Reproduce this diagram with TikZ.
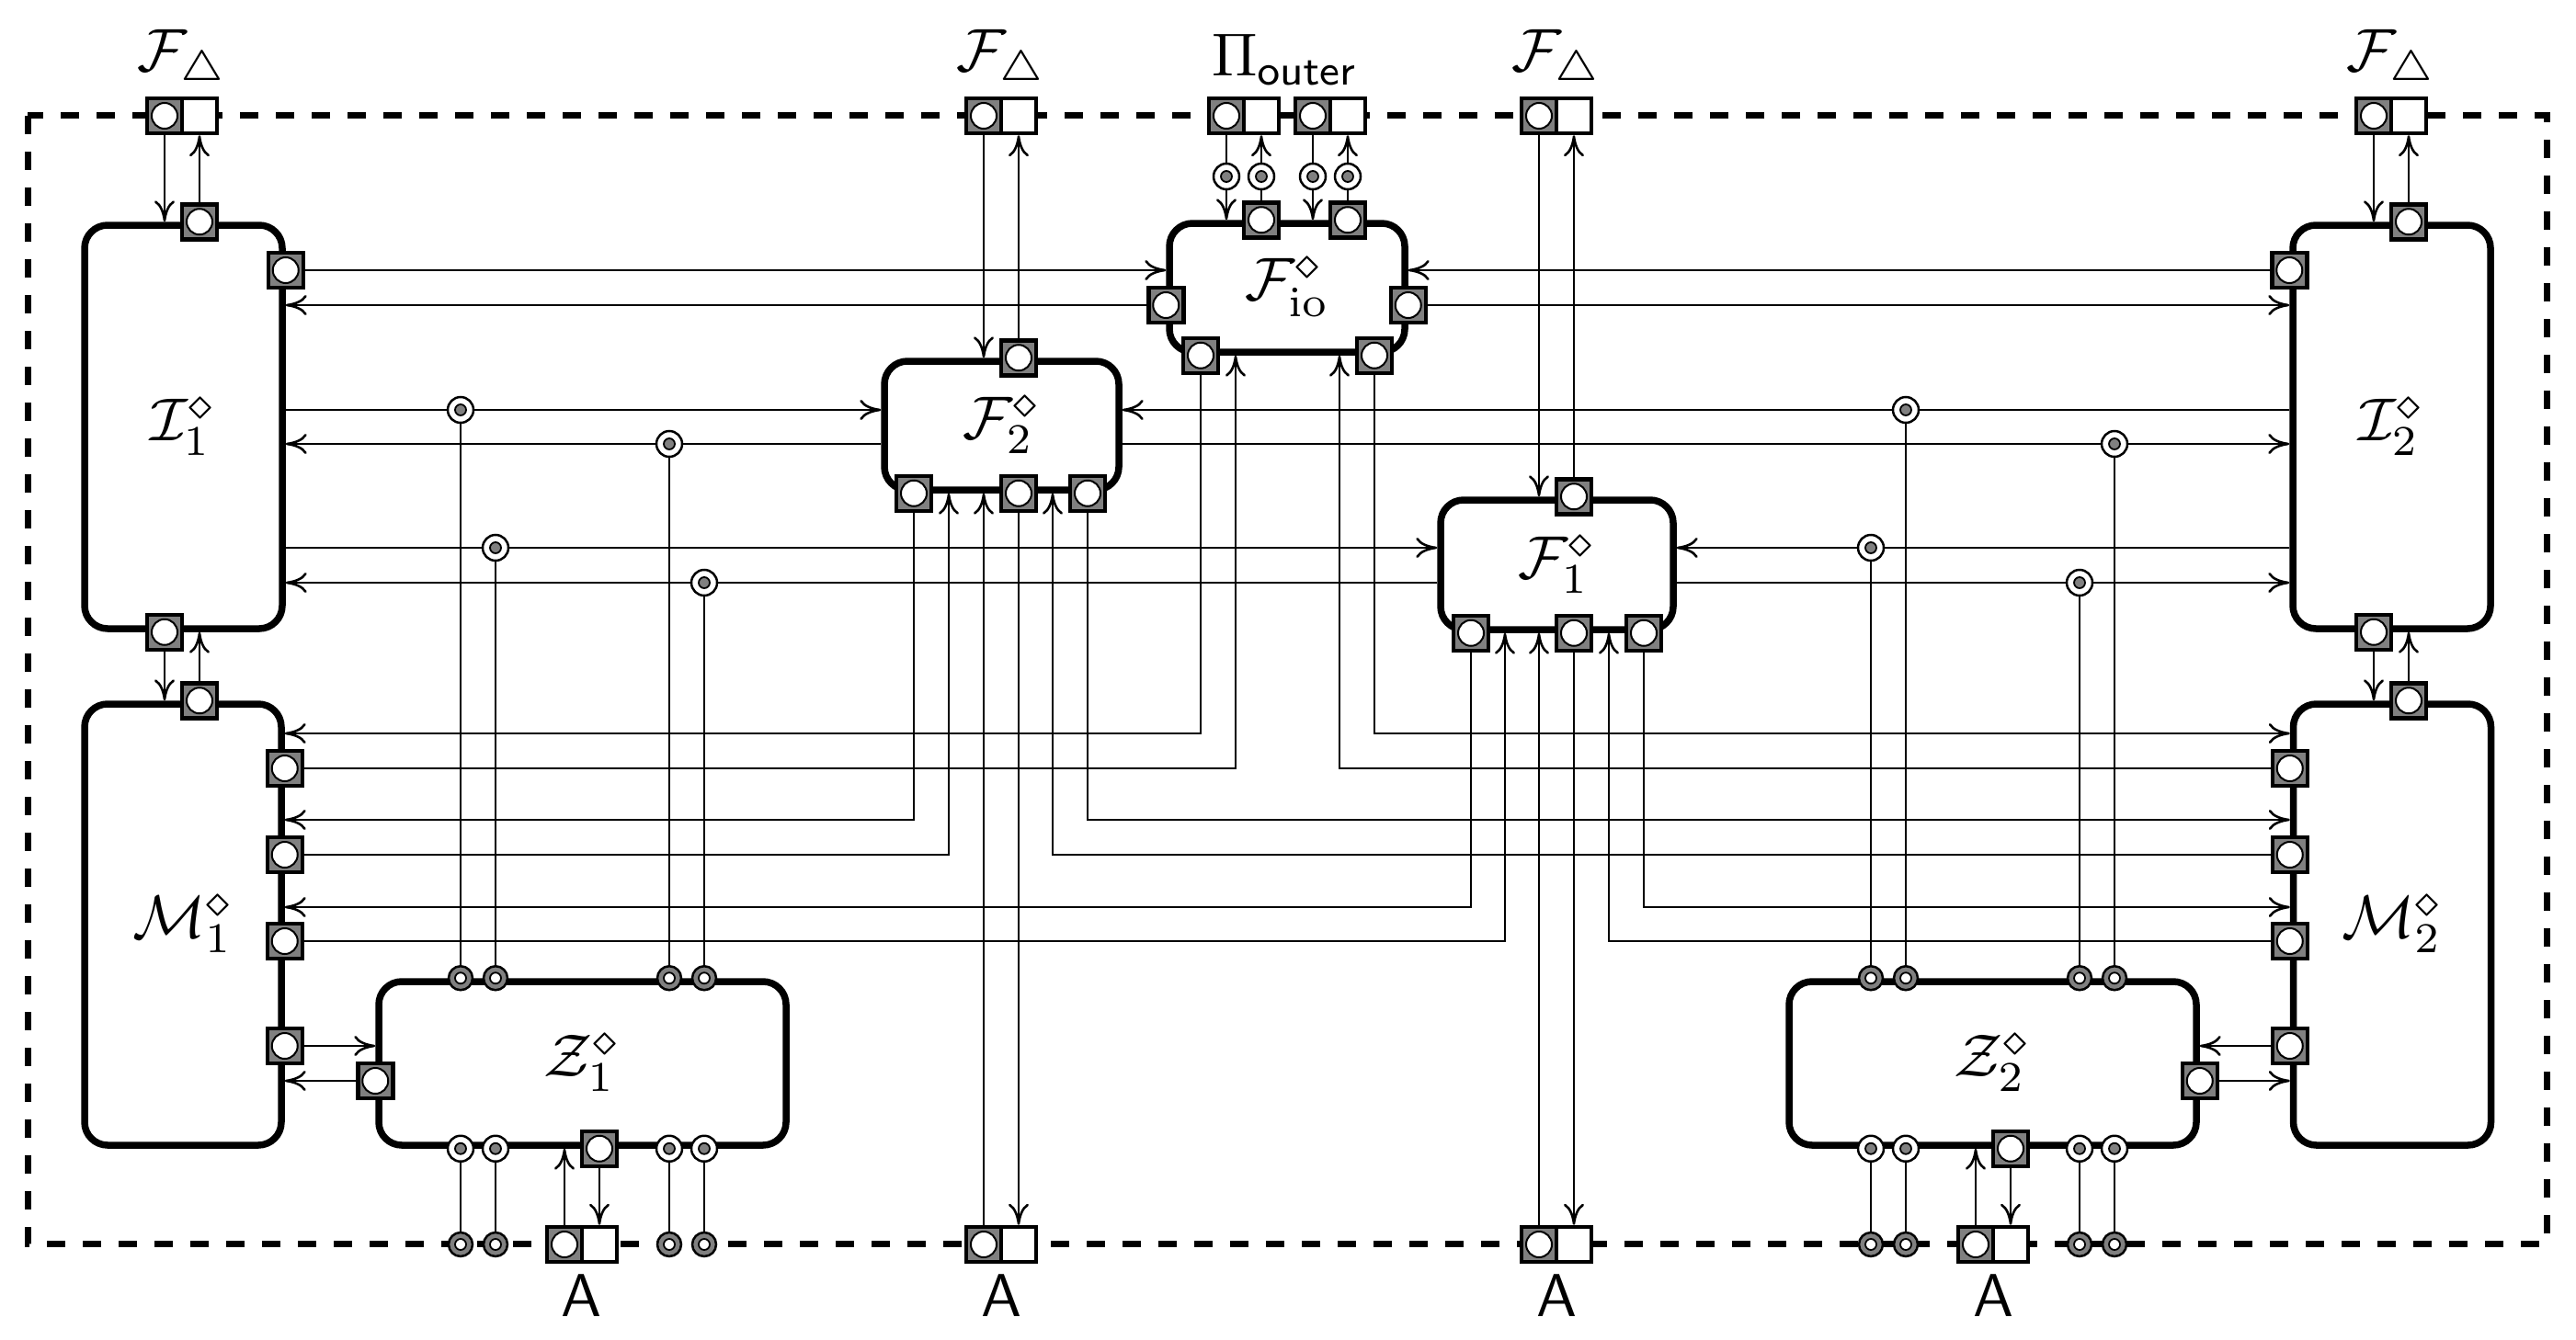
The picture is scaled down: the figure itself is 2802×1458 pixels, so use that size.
\documentclass[tikz,border=0pt]{standalone}
\usepackage{graphicx}
\usetikzlibrary{arrows.meta}
\pgfdeclarelayer{bg}
\pgfsetlayers{bg,main}
\newcommand{\Sc}[1]{\scalebox{6.6}{#1}}
\tikzset{
  blk/.style={draw, line width=7.5pt, rounded corners=25pt, fill=white, outer sep=3.75pt, inner sep=0pt},
  gport/.style={draw, line width=4.5pt, fill=gray, minimum size=38pt, inner sep=0pt, outer sep=2.25pt,
    path picture={\draw[line width=2pt, fill=white] (path picture bounding box.center) circle (14pt);}},
  wport/.style={draw, line width=4.5pt, fill=white, minimum size=38pt, inner sep=0pt, outer sep=2.25pt},
  jdot/.style={circle, draw, line width=2.5pt, fill=white, minimum size=28pt, inner sep=0pt, outer sep=0pt,
    path picture={\draw[line width=1.8pt, fill=gray] (path picture bounding box.center) circle (6pt);}},
  gdot/.style={circle, draw, line width=2.5pt, fill=gray, minimum size=26pt, inner sep=0pt, outer sep=0pt,
    path picture={\draw[line width=1.8pt, fill=white] (path picture bounding box.center) circle (6pt);}},
  wire/.style={line width=2.6pt, -{Computer Modern Rightarrow[length=23pt,width=22pt]}},
  plainwire/.style={line width=2.6pt},
  lab/.style={inner sep=0pt, anchor=base},
  outerframe/.style={line width=7pt, dash pattern=on 20pt off 19pt},
}
\begin{document}
\begin{tikzpicture}[x=1pt,y=-1pt]
\useasboundingbox (0,0) rectangle (2802,1458);
% boxes
\node[blk, minimum width=215pt, minimum height=439pt] (I1) at (199.5,464.5) {\Sc{$\mathcal{I}_1^{\diamond}$}};
\node[blk, minimum width=215pt, minimum height=439pt] (I2) at (2601.5,464.5) {\Sc{$\mathcal{I}_2^{\diamond}$}};
\node[blk, minimum width=214pt, minimum height=480pt] (M1) at (199,1006) {\Sc{$\mathcal{M}_1^{\diamond}$}};
\node[blk, minimum width=215pt, minimum height=480pt] (M2) at (2602,1006) {\Sc{$\mathcal{M}_2^{\diamond}$}};
\node[blk, minimum width=443pt, minimum height=178pt] (Z1) at (633.5,1157) {\Sc{$\mathcal{Z}_1^{\diamond}$}};
\node[blk, minimum width=443pt, minimum height=178pt] (Z2) at (2167.5,1157) {\Sc{$\mathcal{Z}_2^{\diamond}$}};
\node[blk, minimum width=256pt, minimum height=140pt] (Fio) at (1400,313) {\Sc{$\mathcal{F}_{\mathrm{io}}^{\diamond}$}};
\node[blk, minimum width=255pt, minimum height=140pt] (F2) at (1089.5,463) {\Sc{$\mathcal{F}_2^{\diamond}$}};
\node[blk, minimum width=253pt, minimum height=141pt] (F1) at (1693.5,614.5) {\Sc{$\mathcal{F}_1^{\diamond}$}};
% frame ports top
\node[gport] (ft1g) at (179,126) {}; \node[wport] (ft1w) at (217,126) {};
\node[gport] (ft2g) at (1070,126) {}; \node[wport] (ft2w) at (1108,126) {};
\node[gport] (po1g) at (1334,126) {}; \node[wport] (po1w) at (1372,126) {};
\node[gport] (po2g) at (1428,126) {}; \node[wport] (po2w) at (1466,126) {};
\node[gport] (ft3g) at (1674,126) {}; \node[wport] (ft3w) at (1712,126) {};
\node[gport] (ft4g) at (2582,126) {}; \node[wport] (ft4w) at (2620,126) {};
% frame ports bottom
\node[gport] (a1g) at (614,1354) {}; \node[wport] (a1w) at (652,1354) {};
\node[gport] (a2g) at (1070,1354) {}; \node[wport] (a2w) at (1108,1354) {};
\node[gport] (a3g) at (1674,1354) {}; \node[wport] (a3w) at (1712,1354) {};
\node[gport] (a4g) at (2149,1354) {}; \node[wport] (a4w) at (2187,1354) {};
% box ports
\node[gport] (I1t) at (ft1w |- I1.north) {};
\node[gport] (I1b) at (ft1g |- I1.south) {};
\node[gport] (M1t) at (ft1w |- M1.north) {};
\node[gport] (I2t) at (ft4w |- I2.north) {};
\node[gport] (I2b) at (ft4g |- I2.south) {};
\node[gport] (M2t) at (ft4w |- M2.north) {};
\node[gport] (I1r) at (0,294 -| I1.east) {};
\node[gport] (I2l) at (0,294 -| I2.west) {};
\node[gport] (Fiol) at (0,332 -| Fio.west) {};
\node[gport] (Fior) at (0,332 -| Fio.east) {};
\node[gport] (Fiot1) at (po1w |- Fio.north) {};
\node[gport] (Fiot2) at (po2w |- Fio.north) {};
\node[gport] (Fiob1) at (1306,0 |- Fio.south) {};
\node[gport] (Fiob2) at (1495,0 |- Fio.south) {};
\node[gport] (F2t) at (ft2w |- F2.north) {};
\node[gport] (F2b1) at (994,0 |- F2.south) {};
\node[gport] (F2b2) at (a2w |- F2.south) {};
\node[gport] (F2b3) at (1183,0 |- F2.south) {};
\node[gport] (F1t) at (ft3w |- F1.north) {};
\node[gport] (F1b1) at (1600,0 |- F1.south) {};
\node[gport] (F1b2) at (a3w |- F1.south) {};
\node[gport] (F1b3) at (1788,0 |- F1.south) {};
\node[gport] (M1p1) at (0,836 -| M1.east) {};
\node[gport] (M1p2) at (0,930 -| M1.east) {};
\node[gport] (M1p3) at (0,1024 -| M1.east) {};
\node[gport] (M1p4) at (0,1138 -| M1.east) {};
\node[gport] (M2p1) at (0,836 -| M2.west) {};
\node[gport] (M2p2) at (0,930 -| M2.west) {};
\node[gport] (M2p3) at (0,1024 -| M2.west) {};
\node[gport] (M2p4) at (0,1138 -| M2.west) {};
\node[gport] (Z1l) at (0,1176 -| Z1.west) {};
\node[gport] (Z2r) at (0,1176 -| Z2.east) {};
\node[gport] (Z1b) at (a1w |- Z1.south) {};
\node[gport] (Z2b) at (a4w |- Z2.south) {};
% junctions
\node[jdot] (jL1) at (501,446) {};
\node[jdot] (jL2) at (728,483) {};
\node[jdot] (jL3) at (539,596) {};
\node[jdot] (jL4) at (766,634) {};
\node[jdot] (jR1) at (2073,446) {};
\node[jdot] (jR2) at (2300,483) {};
\node[jdot] (jR3) at (2035,596) {};
\node[jdot] (jR4) at (2262,634) {};
\node[jdot] (jp1) at (po1g |- 0,192) {};
\node[jdot] (jp2) at (po1w |- 0,192) {};
\node[jdot] (jp3) at (po2g |- 0,192) {};
\node[jdot] (jp4) at (po2w |- 0,192) {};
% Z top / bottom dots and frame dots
\foreach \n/\j/\z in {1/jL1/Z1,2/jL3/Z1,3/jL2/Z1,4/jL4/Z1,5/jR3/Z2,6/jR1/Z2,7/jR4/Z2,8/jR2/Z2}{
  \node[gdot] (zt\n) at (\j |- \z.north) {};
  \node[jdot] (zb\n) at (\j |- \z.south) {};
  \node[gdot] (fc\n) at (\j |- 0,1354) {};
}
% edge coordinates
\coordinate (M1i1) at (0,798 -| M1.east);
\coordinate (M1i2) at (0,892 -| M1.east);
\coordinate (M1i3) at (0,987 -| M1.east);
\coordinate (M2i1) at (0,798 -| M2.west);
\coordinate (M2i2) at (0,892 -| M2.west);
\coordinate (M2i3) at (0,987 -| M2.west);
\coordinate (Fioi1) at (1344,0 |- Fio.south);
\coordinate (Fioi2) at (1457,0 |- Fio.south);
\coordinate (F2i1) at (1032,0 |- F2.south);
\coordinate (F2i2) at (a2g |- F2.south);
\coordinate (F2i3) at (1145,0 |- F2.south);
\coordinate (F1i1) at (1637,0 |- F1.south);
\coordinate (F1i2) at (a3g |- F1.south);
\coordinate (F1i3) at (1750,0 |- F1.south);
% labels
\node[lab] (lft1) at (198,78) {\Sc{$\mathcal{F}_{\triangle}$}};
\node[lab] (lft2) at (1089,78) {\Sc{$\mathcal{F}_{\triangle}$}};
\node[lab] (lft3) at (1693,78) {\Sc{$\mathcal{F}_{\triangle}$}};
\node[lab] (lft4) at (2601,78) {\Sc{$\mathcal{F}_{\triangle}$}};
\node[lab] (lpo) at (1398,83) {\Sc{$\Pi_{\mathsf{outer}}$}};
\node[lab] (la1) at (633,1432) {\Sc{\textsf{A}}};
\node[lab] (la2) at (1089,1432) {\Sc{\textsf{A}}};
\node[lab] (la3) at (1693,1432) {\Sc{\textsf{A}}};
\node[lab] (la4) at (2168,1432) {\Sc{\textsf{A}}};
\begin{pgfonlayer}{bg}
\draw[outerframe] (30,126) rectangle (2770,1353);
% top corners
\draw[wire] (ft1g.south) -- (ft1g.south |- I1.north);
\draw[wire] (I1t.north) -- (ft1w.south);
\draw[wire] (I1b.south) -- (I1b.south |- M1.north);
\draw[wire] (M1t.north) -- (M1t.north |- I1.south);
\draw[wire] (ft4g.south) -- (ft4g.south |- I2.north);
\draw[wire] (I2t.north) -- (ft4w.south);
\draw[wire] (I2b.south) -- (I2b.south |- M2.north);
\draw[wire] (M2t.north) -- (M2t.north |- I2.south);
% I to Fio
\draw[wire] (I1r.east) -- (I1r.east -| Fio.west);
\draw[wire] (Fiol.west) -- (Fiol.west -| I1.east);
\draw[wire] (I2l.west) -- (I2l.west -| Fio.east);
\draw[wire] (Fior.east) -- (Fior.east -| I2.west);
% Pi outer
\draw[wire] (po1g.south) -- (po1g.south |- Fio.north);
\draw[wire] (Fiot1.north) -- (po1w.south);
\draw[wire] (po2g.south) -- (po2g.south |- Fio.north);
\draw[wire] (Fiot2.north) -- (po2w.south);
% F triangle to F2/F1
\draw[wire] (ft2g.south) -- (ft2g.south |- F2.north);
\draw[wire] (F2t.north) -- (ft2w.south);
\draw[wire] (ft3g.south) -- (ft3g.south |- F1.north);
\draw[wire] (F1t.north) -- (ft3w.south);
% A ports
\draw[wire] (a2g.north) -- (F2i2);
\draw[wire] (F2b2.south) -- (a2w.north);
\draw[wire] (a3g.north) -- (F1i2);
\draw[wire] (F1b2.south) -- (a3w.north);
\draw[wire] (a1g.north) -- (a1g.north |- Z1.south);
\draw[wire] (Z1b.south) -- (a1w.north);
\draw[wire] (a4g.north) -- (a4g.north |- Z2.south);
\draw[wire] (Z2b.south) -- (a4w.north);
% I lines
\draw[wire] (jL1 -| I1.east) -- (jL1 -| F2.west);
\draw[wire] (jL2 -| F2.west) -- (jL2 -| I1.east);
\draw[wire] (jL3 -| I1.east) -- (jL3 -| F1.west);
\draw[wire] (jL4 -| F1.west) -- (jL4 -| I1.east);
\draw[wire] (jR1 -| I2.west) -- (jR1 -| F2.east);
\draw[wire] (jR2 -| F2.east) -- (jR2 -| I2.west);
\draw[wire] (jR3 -| I2.west) -- (jR3 -| F1.east);
\draw[wire] (jR4 -| F1.east) -- (jR4 -| I2.west);
% verticals to Z
\draw[plainwire] (jL1) -- (zt1); \draw[plainwire] (jL3) -- (zt2);
\draw[plainwire] (jL2) -- (zt3); \draw[plainwire] (jL4) -- (zt4);
\draw[plainwire] (jR3) -- (zt5); \draw[plainwire] (jR1) -- (zt6);
\draw[plainwire] (jR4) -- (zt7); \draw[plainwire] (jR2) -- (zt8);
\foreach \n in {1,...,8}{\draw[plainwire] (zb\n) -- (fc\n);}
% M routes
\draw[wire] (Fiob1.south) |- (M1i1);
\draw[wire] (M1p1.east) -| (Fioi1);
\draw[wire] (F2b1.south) |- (M1i2);
\draw[wire] (M1p2.east) -| (F2i1);
\draw[wire] (F1b1.south) |- (M1i3);
\draw[wire] (M1p3.east) -| (F1i1);
\draw[wire] (Fiob2.south) |- (M2i1);
\draw[wire] (M2p1.west) -| (Fioi2);
\draw[wire] (F2b3.south) |- (M2i2);
\draw[wire] (M2p2.west) -| (F2i3);
\draw[wire] (F1b3.south) |- (M2i3);
\draw[wire] (M2p3.west) -| (F1i3);
\draw[wire] (M1p4.east) -- (M1p4.east -| Z1.west);
\draw[wire] (Z1l.west) -- (Z1l.west -| M1.east);
\draw[wire] (M2p4.west) -- (M2p4.west -| Z2.east);
\draw[wire] (Z2r.east) -- (Z2r.east -| M2.west);
\end{pgfonlayer}
\end{tikzpicture}
\end{document}
